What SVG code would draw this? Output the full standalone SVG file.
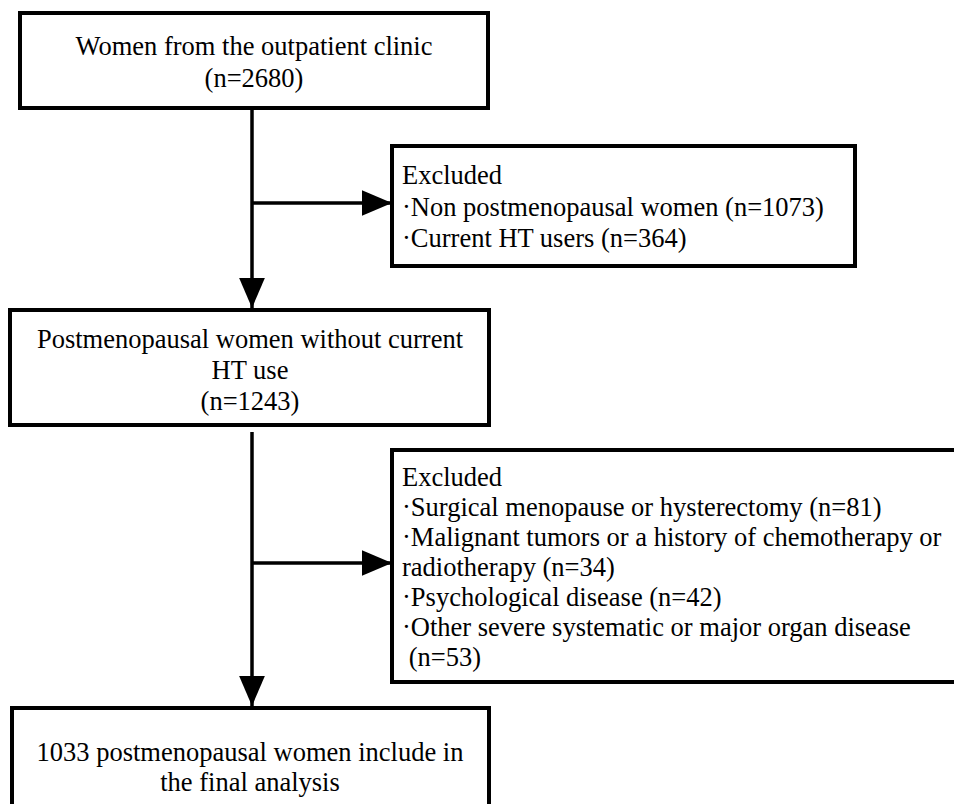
<svg xmlns="http://www.w3.org/2000/svg" width="954" height="804" viewBox="0 0 954 804">
<defs>
<style>
.box{fill:#fff;stroke:#000;stroke-width:4}
.t{font-family:"Liberation Serif","Times New Roman",serif;font-size:26.5px;fill:#000}
.c{text-anchor:middle}
.ln{stroke:#000;stroke-width:3.5;fill:none}
</style>
<marker id="ah" markerUnits="userSpaceOnUse" markerWidth="30" markerHeight="26" viewBox="0 0 28 24" refX="28" refY="12" orient="auto">
<path d="M0,0 L28,12 L0,24 Z" fill="#000"/>
</marker>
</defs>
<rect width="954" height="804" fill="#fff"/>
<g id="connectors">
<line class="ln" x1="252" y1="110" x2="252" y2="308" marker-end="url(#ah)"/>
<line class="ln" x1="252" y1="203" x2="392" y2="203" marker-end="url(#ah)"/>
<line class="ln" x1="252" y1="432" x2="252" y2="706" marker-end="url(#ah)"/>
<line class="ln" x1="252" y1="563" x2="392" y2="563" marker-end="url(#ah)"/>
</g>
<g id="n1">
<rect class="box" x="20" y="13" width="468" height="95"/>
<text class="t c" x="254" y="55">Women from the outpatient clinic</text>
<text class="t c" x="254" y="87">(n=2680)</text>
</g>
<g id="ex1">
<rect class="box" x="392" y="146" width="463" height="120"/>
<text class="t" x="402" y="184">Excluded</text>
<text class="t" x="402" y="216">·Non postmenopausal women (n=1073)</text>
<text class="t" x="402" y="247">·Current HT users (n=364)</text>
</g>
<g id="n2">
<rect class="box" x="10" y="310" width="479" height="115"/>
<text class="t c" x="250" y="348">Postmenopausal women without current</text>
<text class="t c" x="250" y="379">HT use</text>
<text class="t c" x="250" y="410">(n=1243)</text>
</g>
<g id="ex2">
<rect class="box" x="392" y="450" width="570" height="232"/>
<text class="t" x="402" y="486">Excluded</text>
<text class="t" x="402" y="516">·Surgical menopause or hysterectomy (n=81)</text>
<text class="t" x="402" y="546">·Malignant tumors or a history of chemotherapy or</text>
<text class="t" x="402" y="576">radiotherapy (n=34)</text>
<text class="t" x="402" y="606">·Psychological disease (n=42)</text>
<text class="t" x="402" y="636">·Other severe systematic or major organ disease</text>
<text class="t" x="402" y="666" xml:space="preserve"> (n=53)</text>
</g>
<g id="n3">
<rect class="box" x="12" y="708" width="477" height="110"/>
<text class="t c" x="250" y="761">1033 postmenopausal women include in</text>
<text class="t c" x="250" y="791">the final analysis</text>
</g>
</svg>
